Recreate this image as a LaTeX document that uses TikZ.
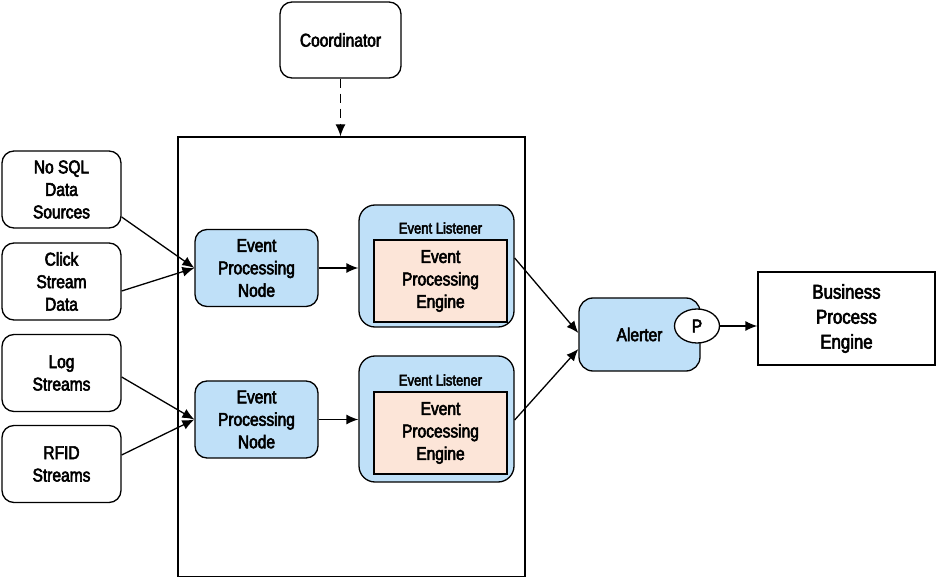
\documentclass[tikz,border=0pt]{standalone}
\usepackage{fontspec}
\setmainfont[FakeStretch=0.84,FakeBold=3]{Liberation Sans}
\usetikzlibrary{arrows.meta,shapes.geometric}
\definecolor{lblue}{HTML}{BFE0F8}
\definecolor{peach}{HTML}{FCE5D8}
\begin{document}
\begin{tikzpicture}[x=1pt,y=-1pt,
  every node/.style={font=\fontsize{18.5}{22.5}\selectfont, align=center},
  srcbox/.style={draw, line width=1.3pt, rounded corners=12pt, minimum width=119pt, minimum height=77pt, inner sep=0pt},
  epnbox/.style={draw, line width=1.3pt, rounded corners=12pt, fill=lblue, minimum width=123pt, minimum height=77pt, inner sep=0pt},
  elbox/.style={draw, line width=1.3pt, rounded corners=16pt, fill=lblue, minimum width=155pt, minimum height=122pt, inner sep=0pt},
  engbox/.style={draw, line width=1.3pt, fill=peach, minimum width=133pt, minimum height=82pt, inner sep=0pt},
  ellab/.style={font=\fontsize{15.5}{18}\selectfont},
  conn/.style={line width=1.3pt, -{Latex[length=12pt,width=10pt]}},
  ]
\useasboundingbox (0,0) rectangle (938,577);
\node[draw, line width=1.3pt, minimum width=347pt, minimum height=440pt, inner sep=0pt] (frame) at (351.5,357) {};
\node[srcbox, minimum width=121pt, minimum height=76pt] (coord) at (340.5,40) {Coordinator};
\node[srcbox] (nosql) at (61.5,189.5) {No SQL\\Data\\Sources};
\node[srcbox] (click) at (61.5,281.5) {Click\\Stream\\Data};
\node[srcbox] (log) at (61.5,373) {Log\\Streams};
\node[srcbox] (rfid) at (61.5,464) {RFID\\Streams};
\node[epnbox] (epn1) at (256.5,268) {Event\\Processing\\Node};
\node[epnbox] (epn2) at (256.5,419.5) {Event\\Processing\\Node};
\node[elbox] (el1) at (436.5,266) {};
\node[ellab] (ellab1) at (440.5,228) {Event Listener};
\node[engbox] (eng1) at (440.5,281) {Event\\Processing\\Engine};
\node[elbox, minimum height=126pt] (el2) at (436.5,419) {};
\node[ellab] (ellab2) at (440.5,380) {Event Listener};
\node[engbox] (eng2) at (440.5,433) {Event\\Processing\\Engine};
\node[draw, line width=1.3pt, rounded corners=14pt, fill=lblue, minimum width=121pt, minimum height=73pt, inner sep=0pt] (alert) at (639.5,334.5) {Alerter};
\node[draw, ellipse, line width=1.3pt, fill=white, minimum width=45pt, minimum height=34pt, inner sep=0pt] (p) at (697,326) {P};
\node[draw, line width=1.3pt, minimum width=177pt, minimum height=93pt, inner sep=0pt, font=\fontsize{20}{25}\selectfont] (bpe) at (846.5,318.5) {Business\\Process\\Engine};
\draw[conn, dashed, dash pattern=on 9pt off 6pt] (coord) -- (frame.north -| coord);
\draw[conn] (nosql.east |- 0,217) -- (epn1.west);
\draw[conn] (click.east |- 0,291) -- (epn1.west);
\draw[conn] (log.east |- 0,377) -- (epn2.west);
\draw[conn] (rfid.east |- 0,455) -- (epn2.west);
\draw[conn] (epn1) -- (el1.west |- epn1);
\draw[conn] (epn2) -- (el2.west |- epn2);
\draw[conn] (el1.east |- 0,258) -- (alert.west |- 0,333);
\draw[conn] (el2.east |- 0,420) -- (alert.west |- 0,349);
\draw[conn] (p) -- (bpe.west |- p);
\end{tikzpicture}
\end{document}
